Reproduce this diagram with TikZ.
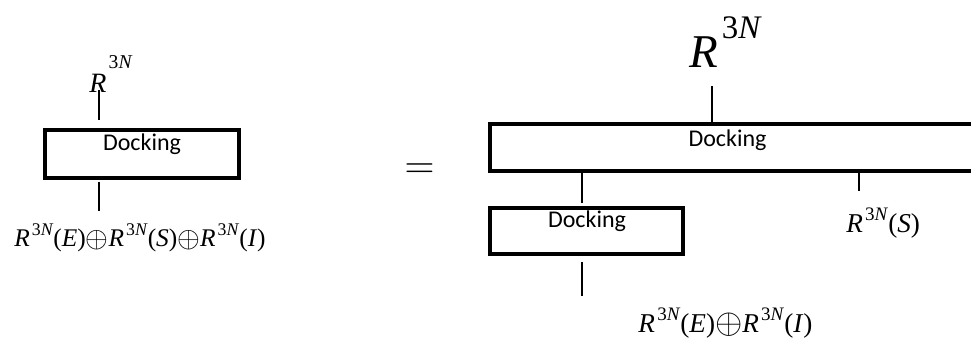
\documentclass[tikz,border=0pt]{standalone}
\usepackage{graphicx}
\usepackage{fontspec}
\newfontfamily\calibri{Carlito}
\newfontfamily\lserif{Liberation Serif}
\usetikzlibrary{fit}
% R^{3N} in text, with the raise of the exponent as argument
\newcommand\Rsup[1]{\textit{R}\kern0.08em\raisebox{#1}{\scalebox{0.7}{3\textit{N}}}}
\newcommand\osum{\raisebox{-0.05em}{\scalebox{1.22}{$\oplus$}}}
\begin{document}
\begin{tikzpicture}[x=0.5pt,y=-0.5pt,
  dockbox/.style={draw, line width=2pt, inner sep=0pt},
  docktext/.style={font=\calibri\fontsize{12}{14}\selectfont, inner sep=0pt, anchor=base},
  wire/.style={line width=0.6pt},
  mlabel/.style={inner sep=0pt, anchor=base}]
\useasboundingbox (0,0) rectangle (971,338);
\clip (0,0) rectangle (971,338);

% left: single docking block
\coordinate (lA) at (45,130);
\coordinate (lB) at (239,177.5);
\node[dockbox, fit=(lA)(lB)] (dockL) {};
\node[docktext] (dockLt) at (142,150) {Docking};
\node[mlabel, anchor=base west, font=\lserif\fontsize{14}{16}\selectfont] (inL) at (89,92)
  {\Rsup{0.85em}};
\node[mlabel, font=\lserif\fontsize{12.7}{15}\selectfont] (outL) at (140,246)
  {\Rsup{0.43em}(\textit{E})\osum\Rsup{0.43em}(\textit{S})\osum\Rsup{0.43em}(\textit{I})};
\coordinate (inLe) at (99,90);
\coordinate (outLe) at (99,211);
\draw[wire, shorten >=4pt] (inLe) -- (inLe |- dockL.north);
\draw[wire, shorten <=1pt] (outLe |- dockL.south) -- (outLe);

% equality
\node[inner sep=0pt, font=\fontsize{19.5}{22}\selectfont] (eq) at (419.5,171.5) {$=$};

% right: nested docking blocks
\coordinate (bA) at (490,124);
\coordinate (bB) at (995,170.5);
\node[dockbox, fit=(bA)(bB)] (dockB) {};
\node[docktext] (dockBt) at (727.5,146) {Docking};
\coordinate (sA) at (490,208);
\coordinate (sB) at (683,254);
\node[dockbox, fit=(sA)(sB)] (dockS) {};
\node[docktext] (dockSt) at (587,227) {Docking};

\node[mlabel, anchor=base west, font=\lserif\fontsize{23.5}{26}\selectfont] (inB) at (689,67)
  {\Rsup{0.6em}};
\node[mlabel, anchor=base west, font=\lserif\fontsize{13.6}{15}\selectfont] (outS) at (846,232)
  {\Rsup{0.43em}(\textit{S})};
\node[mlabel, font=\lserif\fontsize{13.6}{16}\selectfont] (outR) at (725.5,332)
  {\Rsup{0.43em}(\textit{E})\osum\Rsup{0.43em}(\textit{I})};

\coordinate (inBe) at (712,86);
\coordinate (linkX) at (582,0);
\coordinate (outSe) at (859,191);
\coordinate (outRe) at (582,296);
\draw[wire] (inBe) -- (inBe |- dockB.north);
\draw[wire, shorten >=1.5pt] (linkX |- dockB.south) -- (linkX |- dockS.north);
\draw[wire] (outSe |- dockB.south) -- (outSe);
\draw[wire, shorten <=3pt] (outRe |- dockS.south) -- (outRe);
\end{tikzpicture}
\end{document}
